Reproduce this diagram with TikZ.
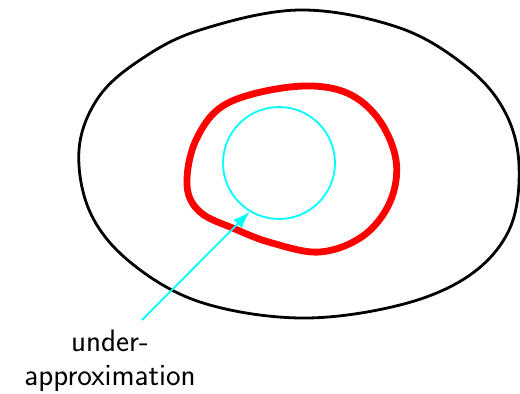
\documentclass[tikz,border=0pt]{standalone}
\usetikzlibrary{arrows.meta}
\definecolor{aqua}{RGB}{0,255,255}
\definecolor{pured}{RGB}{255,0,0}
\begin{document}
\begin{tikzpicture}[x=1pt,y=-1pt,
  outer/.style={draw=black,line width=2.8pt},
  inner/.style={draw=pured,line width=6.8pt},
  approx/.style={draw=aqua,line width=1.8pt},
  lbl/.style={font=\sffamily\fontsize{31}{34}\selectfont,align=center}]
\useasboundingbox (0,0) rectangle (520,394);
\draw[outer] plot[smooth cycle,tension=0.6] coordinates {(79,150) (98,98) (140,60) (200,30) (300,10) (400,28) (468,68) (505,112) (519,165) (510,228) (470,275) (400,305) (300,318) (200,302) (130,262) (90,212)};
\draw[inner] plot[smooth cycle,tension=0.6] coordinates {(290,87) (342,91) (377,117) (396,160) (390,202) (363,236) (320,252) (272,243) (235,229) (200,212) (187,185) (196,140) (226,104)};
\node[approx,circle,minimum size=112pt,inner sep=0pt] (c) at (279,163) {};
\node[lbl] (t) at (110,361) {under-\\approximation};
\coordinate (s) at (142,320);
\draw[approx,-{Latex[length=17pt,width=12pt]}] (s) -- (c.-121);
\end{tikzpicture}
\end{document}
